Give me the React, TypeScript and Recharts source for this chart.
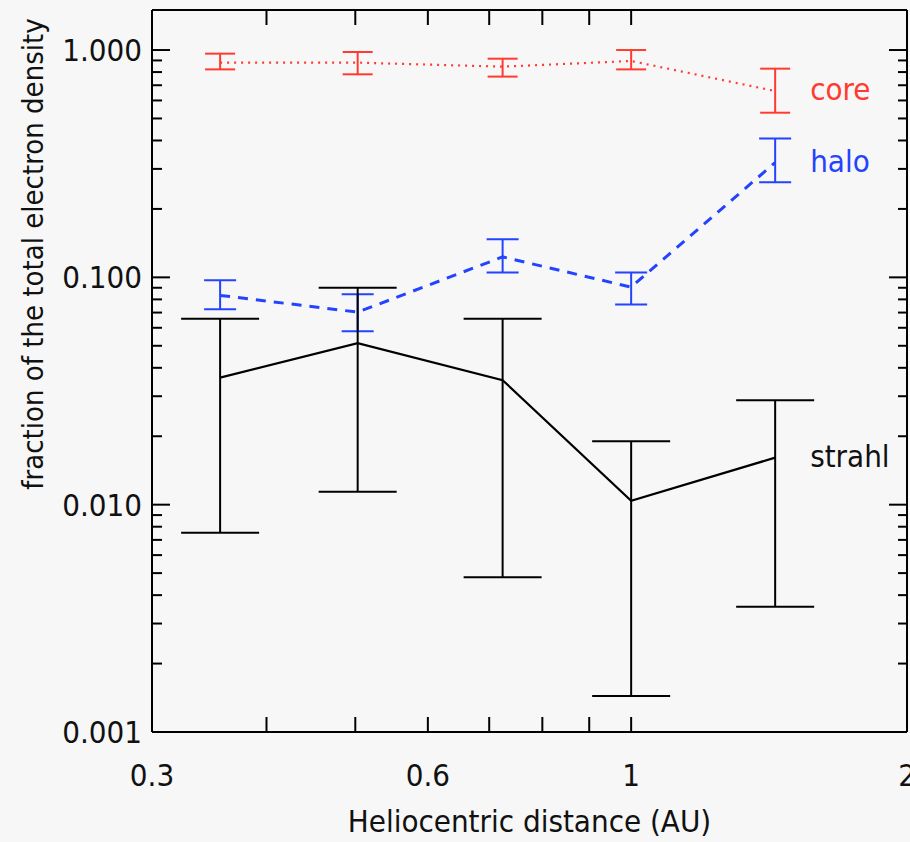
import { LineChart, Line, XAxis, YAxis, ErrorBar, LabelList } from "recharts";

// heliocentric distance of each radial bin (AU)
const distance = [0.356, 0.503, 0.724, 1.0, 1.436];

// fraction of total electron density, with lower / upper error limits
const coreFrac = [0.88, 0.88, 0.845, 0.895, 0.66];
const coreLo = [0.822, 0.782, 0.764, 0.822, 0.53];
const coreHi = [0.964, 0.98, 0.916, 1.0, 0.828];

const haloFrac = [0.0833, 0.0703, 0.123, 0.0906, 0.32];
const haloLo = [0.0723, 0.058, 0.105, 0.076, 0.262];
const haloHi = [0.097, 0.0842, 0.147, 0.105, 0.408];

const strahlFrac = [0.0362, 0.0513, 0.0353, 0.0104, 0.0161];
const strahlLo = [0.00753, 0.0114, 0.0048, 0.00144, 0.00356];
const strahlHi = [0.0658, 0.09, 0.0658, 0.019, 0.0288];

const xTicks = [0.3, 0.4, 0.5, 0.6, 0.7, 0.8, 0.9, 1, 2];
const xLabelled = [0.3, 0.6, 1, 2];
const yMajor = [0.001, 0.01, 0.1, 1];
const yTicks = [
  ...yMajor,
  ...[0.001, 0.01, 0.1].flatMap((dec) =>
    [2, 3, 4, 5, 6, 7, 8, 9].map((m) => +(dec * m).toPrecision(3))
  ),
];

const RED = "#ff3b30";
const BLUE = "#2443ff";
const INK = "#000000";
const FONT = "'DejaVu Sans Condensed', 'DejaVu Sans', sans-serif";
const FS = 31;

const rows = distance.map((d, i) => ({
  d,
  core: coreFrac[i],
  coreErr: [coreFrac[i] - coreLo[i], coreHi[i] - coreFrac[i]],
  halo: haloFrac[i],
  haloErr: [haloFrac[i] - haloLo[i], haloHi[i] - haloFrac[i]],
  strahl: strahlFrac[i],
  strahlErr: [strahlFrac[i] - strahlLo[i], strahlHi[i] - strahlFrac[i]],
}));

const last = distance.length - 1;

function LeftTick({ x, y, payload }: any) {
  const major = yMajor.includes(payload.value);
  return (
    <g>
      <line x1={x} x2={x + (major ? 18 : 10)} y1={y} y2={y} stroke={INK} strokeWidth={2} />
      {major && (
        <text x={x - 10} y={y + 11} textAnchor="end" fontFamily={FONT} fontSize={FS} fill="#111">
          {payload.value.toFixed(3)}
        </text>
      )}
    </g>
  );
}

function RightTick({ x, y, payload }: any) {
  const major = yMajor.includes(payload.value);
  return <line x1={x} x2={x - (major ? 18 : 9)} y1={y} y2={y} stroke={INK} strokeWidth={2} />;
}

function BottomTick({ x, y, payload }: any) {
  return (
    <g>
      <line x1={x} x2={x} y1={y} y2={y - 15} stroke={INK} strokeWidth={2} />
      {xLabelled.includes(payload.value) && (
        <text x={x} y={y + 54} textAnchor="middle" fontFamily={FONT} fontSize={FS} fill="#111">
          {String(payload.value)}
        </text>
      )}
    </g>
  );
}

function TopTick({ x, y }: any) {
  return <line x1={x} x2={x} y1={y} y2={y + 15} stroke={INK} strokeWidth={2} />;
}

function YTitle({ viewBox }: any) {
  const cx = viewBox.x + 43;
  const cy = viewBox.y + 244;
  return (
    <text
      x={cx}
      y={cy}
      transform={`rotate(-90, ${cx}, ${cy})`}
      textAnchor="middle"
      fontFamily={FONT}
      fontSize={29}
      fill="#111"
    >
      fraction of the total electron density
    </text>
  );
}

function XTitle({ viewBox }: any) {
  return (
    <text
      x={viewBox.x + viewBox.width / 2}
      y={viewBox.y + 100}
      textAnchor="middle"
      fontFamily={FONT}
      fontSize={FS}
      fill="#111"
    >
      Heliocentric distance (AU)
    </text>
  );
}

// name tag drawn to the right of the outermost point of a series
const seriesTag = (name: string, color: string) => (props: any) =>
  props.index === last ? (
    <text x={props.x + 35} y={props.y + 9} fontFamily={FONT} fontSize={FS} fill={color}>
      {name}
    </text>
  ) : null;

export default function App() {
  return (
    <div
      style={{
        position: "absolute",
        left: 0,
        top: 0,
        width: 910,
        height: 842,
        background: "#f7f7f7",
      }}
    >
      <LineChart width={910} height={842} data={rows} margin={{ top: 0, right: 0, bottom: 0, left: 0 }}>
        <XAxis
          dataKey="d"
          type="number"
          scale="log"
          domain={[0.3, 2]}
          allowDataOverflow
          ticks={xTicks}
          interval={0}
          height={110}
          tickSize={0}
          tickMargin={0}
          tickLine={false}
          axisLine={{ stroke: INK, strokeWidth: 2 }}
          tick={<BottomTick />}
          label={<XTitle />}
        />
        <XAxis
          xAxisId="top"
          orientation="top"
          dataKey="d"
          type="number"
          scale="log"
          domain={[0.3, 2]}
          allowDataOverflow
          ticks={xTicks}
          interval={0}
          height={10}
          tickSize={0}
          tickMargin={0}
          tickLine={false}
          axisLine={{ stroke: INK, strokeWidth: 2 }}
          tick={<TopTick />}
        />
        <YAxis
          type="number"
          scale="log"
          domain={[0.001, 1.5]}
          allowDataOverflow
          ticks={yTicks}
          interval={0}
          width={152}
          tickSize={0}
          tickMargin={0}
          tickLine={false}
          axisLine={{ stroke: INK, strokeWidth: 2 }}
          tick={<LeftTick />}
          label={<YTitle />}
        />
        <YAxis
          yAxisId="right"
          orientation="right"
          type="number"
          scale="log"
          domain={[0.001, 1.5]}
          allowDataOverflow
          ticks={yTicks}
          interval={0}
          width={3}
          tickSize={0}
          tickMargin={0}
          tickLine={false}
          axisLine={{ stroke: INK, strokeWidth: 2 }}
          tick={<RightTick />}
        />

        <Line
          dataKey="core"
          type="linear"
          stroke={RED}
          strokeWidth={2.2}
          strokeDasharray="2 5"
          dot={false}
          activeDot={false}
          isAnimationActive={false}
        >
          <ErrorBar dataKey="coreErr" direction="y" width={15} stroke={RED} strokeWidth={2} isAnimationActive={false} />
          <LabelList dataKey="core" content={seriesTag("core", RED)} />
        </Line>
        <Line
          dataKey="halo"
          type="linear"
          stroke={BLUE}
          strokeWidth={3}
          strokeDasharray="10 8"
          dot={false}
          activeDot={false}
          isAnimationActive={false}
        >
          <ErrorBar dataKey="haloErr" direction="y" width={16} stroke={BLUE} strokeWidth={2} isAnimationActive={false} />
          <LabelList dataKey="halo" content={seriesTag("halo", BLUE)} />
        </Line>
        <Line
          dataKey="strahl"
          type="linear"
          stroke={INK}
          strokeWidth={2.2}
          dot={false}
          activeDot={false}
          isAnimationActive={false}
        >
          <ErrorBar dataKey="strahlErr" direction="y" width={39} stroke={INK} strokeWidth={2} isAnimationActive={false} />
          <LabelList dataKey="strahl" content={seriesTag("strahl", "#111")} />
        </Line>
      </LineChart>
    </div>
  );
}
